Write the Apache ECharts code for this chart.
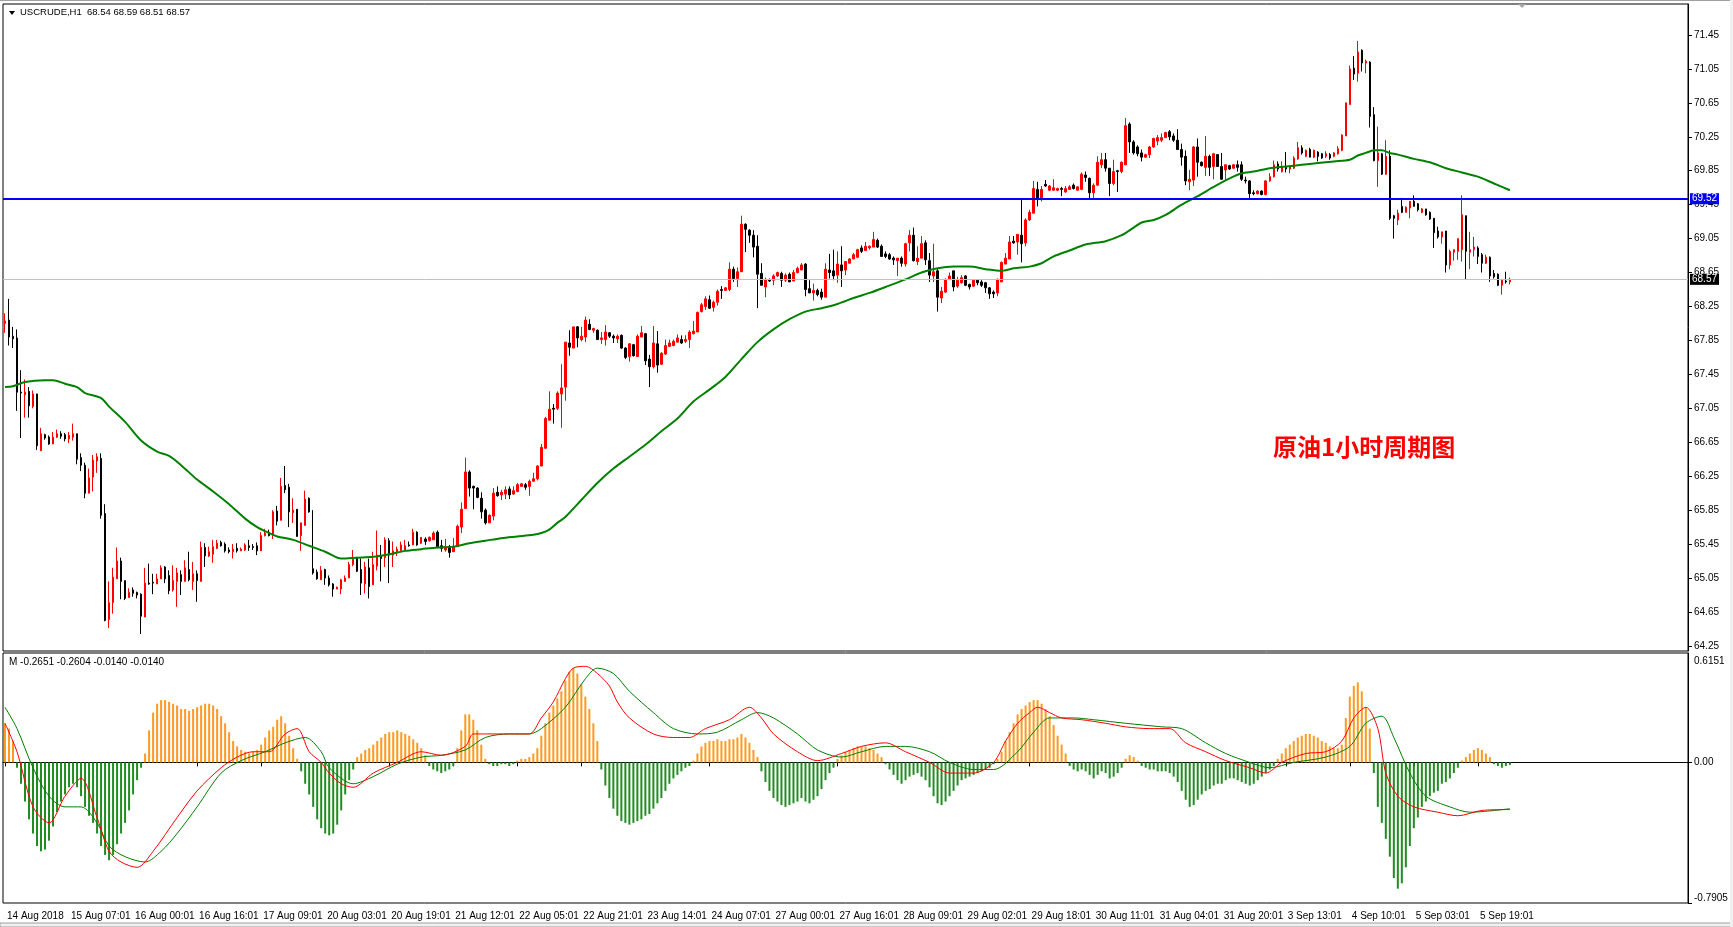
<!DOCTYPE html>
<html><head><meta charset="utf-8">
<script src="https://cdn.jsdelivr.net/npm/echarts@6/dist/echarts.min.js"></script>
<style>html,body{margin:0;padding:0;background:#fff}#c{width:1733px;height:927px}</style>
</head><body><div id="c"></div>
<script>
// ---- time axis labels (one every 16 hourly bars) ----
const timeLabels = ['14 Aug 2018','15 Aug 07:01','16 Aug 00:01','16 Aug 16:01','17 Aug 09:01','20 Aug 03:01','20 Aug 19:01','21 Aug 12:01','22 Aug 05:01','22 Aug 21:01','23 Aug 14:01','24 Aug 07:01','27 Aug 00:01','27 Aug 16:01','28 Aug 09:01','29 Aug 02:01','29 Aug 18:01','30 Aug 11:01','31 Aug 04:01','31 Aug 20:01','3 Sep 13:01','4 Sep 10:01','5 Sep 03:01','5 Sep 19:01'];
const barsPerLabel = 16;
const totalSlots = 421;
const priceTicks = [64.25,64.65,65.05,65.45,65.85,66.25,66.65,67.05,67.45,67.85,68.25,68.65,69.05,69.45,69.85,70.25,70.65,71.05,71.45];
const priceMin = 64.19, priceMax = 71.815;
const macdTicks = [0.6151, 0, -0.7905];
const levelLine = 69.52;
const lastPrice = 68.57;

// ---- OHLC ----
const opens = [
68.05,68.09,67.90,67.88,67.24,67.21,67.25,67.07,67.22,66.55,
66.74,66.71,66.63,66.71,66.75,66.74,66.69,66.71,66.75,66.47,
66.38,66.05,66.24,66.43,66.46,65.81,64.56,64.76,65.04,65.25,
65.02,64.82,64.91,64.88,64.86,64.59,64.99,65.00,64.98,65.04,
65.18,65.08,64.91,65.01,65.09,65.01,65.15,65.01,65.10,65.01,
65.41,65.31,65.33,65.40,65.47,65.45,65.38,65.36,65.40,65.37,
65.38,65.43,65.42,65.43,65.37,65.55,65.59,65.55,65.84,65.73,
66.14,66.12,65.82,65.86,65.55,65.67,65.99,65.16,65.12,65.03,
65.15,65.05,64.98,64.92,64.92,65.01,65.05,65.21,65.28,65.15,
64.98,65.17,64.97,65.19,
65.31,65.29,65.49,65.32,65.35,65.37,
65.38,65.44,65.44,65.59,65.46,65.51,65.49,65.50,65.59,65.43,
65.38,65.42,65.36,65.42,65.65,65.87,66.30,66.13,66.11,65.99,
65.85,65.70,65.78,66.06,66.03,66.04,66.10,66.04,66.07,66.13,
66.15,66.13,66.19,66.22,66.37,66.58,66.91,67.05,67.05,67.22,
67.30,67.82,67.76,68.01,67.86,67.89,68.04,67.97,67.97,67.86,
67.86,67.94,67.90,67.87,67.91,67.76,67.66,67.80,67.66,67.89,
67.93,67.63,67.54,67.81,67.57,67.69,67.78,67.79,67.83,67.86,
67.84,67.86,67.93,67.95,68.19,68.25,68.33,68.24,68.30,68.45,
68.44,68.45,68.69,68.58,68.66,69.22,69.15,69.09,
68.96,68.64,
68.48,68.56,68.56,68.61,68.64,68.56,68.63,68.55,68.65,68.68,
68.75,68.46,68.41,68.44,68.42,68.36,68.68,68.67,68.62,68.74,
68.68,68.76,68.81,68.83,68.94,68.91,68.94,68.95,69.03,68.96,
68.87,68.86,68.82,68.79,68.82,68.75,69.00,69.09,68.78,68.82,
69.00,68.79,68.61,68.67,68.35,68.42,68.57,68.67,68.49,68.53,
68.61,68.51,68.49,68.56,68.54,68.53,68.47,68.42,68.41,68.54,
68.75,68.81,69.02,69.01,69.09,69.00,69.27,69.35,69.63,69.51,
69.69,69.62,69.62,69.62,69.64,69.60,69.63,69.68,69.62,69.63,
69.80,69.76,69.59,69.68,69.92,69.98,69.88,69.70,69.85,69.84,
69.92,70.40,
70.19,70.13,70.06,70.01,70.04,70.13,70.20,70.21,
70.24,70.31,70.26,70.21,70.10,70.02,69.72,69.74,70.13,69.95,
69.89,70.02,69.90,70.04,69.90,69.86,69.91,69.88,69.92,69.92,
69.74,69.73,69.59,69.58,69.61,69.57,69.73,69.78,69.93,69.84,
69.89,69.87,69.88,69.99,70.12,70.02,70.10,70.01,70.07,70.05,
70.02,70.04,70.02,70.05,70.09,70.26,70.63,71.06,71.00,71.27,
71.12,71.13,70.51,69.97,70.05,69.81,70.02,69.32,69.27,69.43,
69.36,69.41,69.49,69.46,69.36,69.40,69.36,69.29,69.14,69.07,
69.14,68.74,68.89,68.90,68.92,69.32,68.89,68.92,68.94,68.86,
68.76,68.83,68.64,68.63,68.50,68.55,68.54];
const highs = [
68.17,68.34,68.01,67.98,67.50,67.39,67.30,67.26,67.22,66.82,
66.75,66.73,66.77,66.80,66.78,66.76,66.77,66.87,66.75,66.52,
66.41,66.34,66.50,66.52,66.52,65.92,65.01,65.17,65.41,65.29,
65.02,64.93,64.94,64.89,64.87,65.17,65.22,65.10,65.10,65.20,
65.19,65.14,65.20,65.17,65.14,65.26,65.36,65.24,65.14,65.48,
65.46,65.42,65.50,65.50,65.49,65.47,65.41,65.45,65.46,65.41,
65.46,65.50,65.45,65.47,65.59,65.63,65.62,65.85,65.90,66.23,
66.37,66.16,65.99,65.86,65.70,66.08,66.00,65.85,65.15,65.19,
65.16,65.08,64.99,64.95,65.04,65.08,65.24,65.38,65.30,65.28,
65.24,65.28,65.36,65.61,
65.44,65.53,65.52,65.48,65.42,65.48,
65.50,65.48,65.63,65.60,65.53,65.53,65.54,65.60,65.61,65.50,
65.51,65.44,65.52,65.68,65.94,66.47,66.32,66.14,66.12,66.06,
65.87,65.80,66.11,66.13,66.09,66.13,66.13,66.13,66.17,66.17,
66.17,66.21,66.29,66.38,66.63,66.95,67.25,67.10,67.25,67.57,
67.83,67.97,68.01,68.02,68.01,68.13,68.10,68.00,67.98,67.95,
68.03,67.95,67.92,67.92,67.92,67.77,67.82,67.81,67.92,68.02,
67.93,67.68,68.02,67.96,67.71,67.86,67.86,67.86,67.92,67.91,
67.91,67.97,68.08,68.19,68.29,68.37,68.38,68.32,68.45,68.49,
68.48,68.77,68.72,68.71,69.32,69.23,69.16,69.15,
69.09,68.76,
68.59,68.58,68.63,68.66,68.66,68.64,68.65,68.68,68.72,68.76,
68.76,68.56,68.52,68.46,68.46,68.76,68.87,68.92,68.90,68.96,
68.78,68.82,68.88,68.93,68.97,69.01,68.97,69.13,69.05,68.98,
68.90,68.88,68.84,68.82,68.84,69.00,69.15,69.18,68.96,69.08,
69.03,68.88,68.99,68.70,68.48,68.58,68.65,68.67,68.60,68.62,
68.62,68.52,68.57,68.57,68.56,68.54,68.48,68.44,68.58,68.78,
68.88,69.08,69.08,69.10,69.51,69.29,69.39,69.73,69.72,69.67,
69.74,69.68,69.75,69.65,69.66,69.67,69.68,69.70,69.67,69.83,
69.84,69.77,69.70,70.02,70.06,70.06,69.88,69.98,69.86,69.96,
70.47,70.42,
70.21,70.15,70.10,70.05,70.14,70.24,70.27,70.29,
70.31,70.33,70.29,70.34,70.17,70.09,69.86,70.14,70.23,69.96,
70.26,70.04,70.06,70.04,70.06,69.92,69.92,69.93,69.97,69.96,
69.78,69.74,69.62,69.62,69.62,69.74,69.82,69.97,69.96,69.96,
70.07,69.91,70.02,70.19,70.15,70.10,70.12,70.10,70.08,70.06,
70.08,70.06,70.07,70.14,70.28,70.65,71.09,71.20,71.38,71.28,
71.16,71.14,70.60,70.37,70.06,70.21,70.09,69.33,69.39,69.53,
69.43,69.49,69.56,69.47,69.41,69.40,69.37,69.29,69.19,69.13,
69.14,68.92,68.92,69.05,69.56,69.32,69.13,69.07,68.96,68.88,
68.86,68.84,68.68,68.64,68.57,68.66,68.59];
const lows = [
67.94,67.79,67.76,67.02,66.70,66.94,66.94,67.05,66.56,66.55,
66.68,66.62,66.63,66.70,66.69,66.66,66.64,66.67,66.39,66.31,
65.99,66.05,66.07,66.29,65.75,64.54,64.46,64.63,65.04,64.80,
64.79,64.82,64.83,64.81,64.39,64.59,64.97,64.86,64.98,65.04,
64.99,64.86,64.89,64.71,64.85,65.01,65.01,64.91,64.77,65.01,
65.18,65.30,65.23,65.39,65.42,65.35,65.34,65.28,65.35,65.37,
65.37,65.37,65.38,65.32,65.37,65.54,65.54,65.51,65.67,65.73,
66.05,65.65,65.70,65.54,65.37,65.67,65.82,65.09,65.03,65.03,
64.97,64.95,64.83,64.92,64.86,65.01,65.05,65.19,65.12,64.85,
64.87,64.81,64.97,65.14,
65.01,65.18,64.99,65.18,65.31,65.37,
65.38,65.42,65.44,65.43,65.45,65.44,65.48,65.50,65.40,65.36,
65.36,65.29,65.36,65.42,65.58,65.87,66.01,65.86,65.99,65.75,
65.68,65.70,65.73,66.01,65.97,65.98,65.98,66.03,66.06,66.13,
66.09,66.02,66.19,66.20,66.37,66.57,66.91,66.87,67.03,66.82,
67.14,67.67,67.76,67.77,67.84,67.83,67.97,67.94,67.86,67.81,
67.79,67.88,67.82,67.82,67.75,67.63,67.60,67.66,67.66,67.89,
67.56,67.30,67.52,67.47,67.56,67.68,67.78,67.78,67.83,67.81,
67.82,67.76,67.92,67.95,68.18,68.21,68.22,68.19,68.26,68.34,
68.44,68.43,68.54,68.48,68.66,68.89,69.00,68.83,
68.23,68.50,
68.36,68.54,68.50,68.60,68.48,68.54,68.54,68.55,68.64,68.68,
68.37,68.41,68.32,68.37,68.33,68.36,68.58,68.56,68.53,68.48,
68.62,68.76,68.81,68.82,68.88,68.91,68.92,68.95,68.94,68.84,
68.82,68.80,68.74,68.61,68.72,68.72,68.90,68.78,68.74,68.82,
68.74,68.54,68.54,68.19,68.29,68.41,68.56,68.43,68.47,68.52,
68.49,68.45,68.48,68.50,68.48,68.41,68.34,68.35,68.37,68.54,
68.75,68.81,68.99,68.86,68.77,68.96,69.26,69.35,69.43,69.49,
69.66,69.61,69.62,69.61,69.55,69.59,69.63,69.63,69.62,69.62,
69.72,69.52,69.53,69.67,69.88,69.84,69.55,69.68,69.60,69.82,
69.92,70.06,
70.04,70.02,69.96,70.00,70.00,70.12,70.15,70.19,
70.24,70.21,70.19,70.10,69.91,69.68,69.62,69.67,69.78,69.90,
69.79,69.79,69.75,69.90,69.74,69.74,69.86,69.87,69.84,69.73,
69.70,69.53,69.56,69.57,69.56,69.56,69.72,69.77,69.84,69.83,
69.83,69.82,69.87,69.98,70.04,70.01,70.01,70.00,69.96,69.99,
70.00,69.98,70.01,70.04,70.08,70.26,70.63,70.92,70.90,71.02,
71.00,70.36,69.96,69.66,69.80,69.80,69.27,69.05,69.21,69.35,
69.36,69.29,69.43,69.37,69.35,69.32,69.27,68.94,69.05,68.99,
68.65,68.69,68.79,68.80,68.78,68.57,68.69,68.84,68.75,68.65,
68.75,68.54,68.58,68.49,68.39,68.52,68.51];
const closes = [
68.08,67.89,67.87,67.24,67.23,67.24,67.08,67.22,66.61,66.75,
66.70,66.63,66.71,66.75,66.72,66.69,66.73,66.75,66.45,66.38,
66.05,66.23,66.44,66.48,65.79,64.55,64.76,65.06,65.25,65.01,
64.81,64.88,64.87,64.85,64.60,64.99,64.98,64.99,65.04,65.17,
65.04,64.90,65.02,65.11,65.01,65.17,65.03,65.10,65.02,65.41,
65.31,65.36,65.42,65.46,65.43,65.37,65.36,65.39,65.37,65.39,
65.44,65.41,65.41,65.37,65.55,65.58,65.55,65.83,65.72,66.13,
66.09,65.83,65.85,65.54,65.70,65.98,65.83,65.11,65.04,65.14,
65.05,64.97,64.92,64.94,65.03,65.05,65.21,65.27,65.13,64.99,
65.18,64.95,65.21,65.32,
65.28,65.50,65.32,65.37,65.39,65.44,
65.43,65.43,65.59,65.44,65.53,65.48,65.53,65.58,65.42,65.40,
65.42,65.35,65.42,65.66,65.86,66.30,66.11,66.11,66.00,65.83,
65.70,65.79,66.05,66.02,66.06,66.09,66.03,66.08,66.15,66.16,
66.12,66.19,66.22,66.37,66.59,66.93,67.04,67.04,67.23,67.29,
67.83,67.77,68.01,67.88,67.90,68.09,67.98,67.99,67.86,67.88,
67.95,67.90,67.88,67.90,67.76,67.65,67.81,67.67,67.90,67.94,
67.61,67.54,67.82,67.56,67.70,67.79,67.82,67.84,67.88,67.82,
67.86,67.95,67.96,68.18,68.27,68.34,68.23,68.30,68.43,68.44,
68.47,68.69,68.58,68.66,69.22,69.16,69.09,68.95,
68.63,68.50,
68.57,68.55,68.61,68.65,68.56,68.62,68.54,68.65,68.70,68.74,
68.45,68.41,68.44,68.39,68.36,68.69,68.65,68.61,68.75,68.67,
68.78,68.81,68.86,68.92,68.90,68.96,68.96,69.04,68.95,68.84,
68.84,68.81,68.80,68.82,68.76,68.99,69.09,68.79,68.82,68.99,
68.80,68.62,68.66,68.36,68.43,68.57,68.61,68.48,68.56,68.59,
68.50,68.48,68.56,68.53,68.50,68.47,68.40,68.40,68.57,68.77,
68.82,69.01,69.00,69.10,68.99,69.27,69.36,69.64,69.51,69.63,
69.67,69.67,69.65,69.64,69.63,69.64,69.66,69.64,69.66,69.81,
69.77,69.59,69.68,69.95,69.98,69.88,69.70,69.84,69.84,69.95,
70.38,70.19,
70.06,70.05,70.01,70.04,70.13,70.23,70.24,70.24,
70.30,70.25,70.21,70.10,70.01,69.73,69.75,70.13,69.95,69.91,
70.02,69.89,70.05,69.90,69.75,69.92,69.87,69.92,69.89,69.75,
69.73,69.58,69.58,69.61,69.57,69.73,69.78,69.92,69.87,69.89,
69.87,69.90,70.00,70.12,70.06,70.09,70.01,70.09,70.02,70.00,
70.05,70.00,70.06,70.11,70.27,70.65,71.05,70.99,71.25,71.12,
71.14,70.49,69.97,70.06,69.81,70.02,69.29,69.29,69.35,69.36,
69.42,69.49,69.43,69.39,69.40,69.33,69.28,69.12,69.07,69.13,
68.74,68.90,68.92,69.05,69.33,68.90,68.92,68.95,68.84,68.76,
68.83,68.61,68.60,68.50,68.57,68.54,68.57];

// ---- moving average (bar index, value) ----
const maPoints = [[0,67.30],[2,67.31],[5,67.36],[10,67.38],[12,67.38],[15,67.34],[18,67.30],[20,67.23],[24,67.17],[26,67.07],[30,66.89],[34,66.67],[38,66.54],[41,66.49],[44,66.38],[48,66.21],[52,66.07],[56,65.92],[60,65.75],[63,65.65],[66,65.58],[68,65.54],[72,65.50],[76,65.43],[80,65.36],[84,65.28],[88,65.29],[92,65.30],[96,65.33],[100,65.37],[104,65.39],[108,65.41],[112,65.42],[116,65.46],[120,65.49],[124,65.52],[128,65.54],[132,65.56],[134,65.58],[136,65.62],[138,65.70],[140,65.77],[144,65.97],[148,66.17],[152,66.34],[156,66.48],[160,66.62],[164,66.78],[168,66.93],[172,67.13],[176,67.27],[180,67.42],[184,67.63],[188,67.83],[192,67.98],[196,68.10],[200,68.19],[204,68.23],[208,68.28],[212,68.35],[216,68.41],[220,68.48],[225,68.57],[229,68.65],[233,68.70],[237,68.72],[241,68.72],[245,68.69],[249,68.67],[252,68.70],[256,68.72],[259,68.76],[262,68.84],[266,68.91],[270,68.98],[275,69.02],[279,69.09],[282,69.18],[284,69.24],[287,69.27],[290,69.33],[294,69.45],[298,69.55],[302,69.66],[306,69.76],[309,69.82],[312,69.84],[316,69.88],[320,69.90],[324,69.92],[328,69.94],[332,69.96],[336,69.98],[338,70.03],[340,70.06],[342,70.09],[344,70.09],[346,70.06],[348,70.04],[352,69.99],[356,69.95],[360,69.88],[364,69.83],[368,69.78],[372,69.70],[376,69.62]];

// ---- MACD panel ----
const histogram = [
0.22,0.19,0.12,
-0.03,-0.12,-0.22,-0.32,-0.40,-0.47,-0.50,-0.49,-0.44,-0.36,-0.28,-0.22,-0.18,-0.14,-0.12,-0.14,-0.19,-0.25,-0.30,-0.34,-0.40,-0.47,-0.52,-0.55,-0.52,-0.46,-0.40,-0.34,-0.27,-0.18,-0.10,-0.03,
0.05,0.18,0.28,0.33,0.35,0.35,0.34,0.33,0.32,0.30,0.30,0.29,0.30,0.31,0.32,0.33,0.33,0.32,0.30,0.26,0.22,0.17,0.12,0.09,0.07,0.06,0.05,0.06,0.07,0.10,0.14,0.18,0.20,0.24,0.26,0.22,0.15,0.08,0.02,
-0.05,-0.12,-0.18,-0.25,-0.32,-0.37,-0.40,-0.41,-0.40,-0.35,-0.27,-0.18,-0.10,-0.04,
0.03,0.05,0.07,0.08,0.10,
0.12,0.14,0.16,0.17,0.17,0.18,0.17,0.16,0.15,0.13,0.11,0.08,0.04,
-0.02,-0.04,-0.05,-0.06,-0.05,-0.04,-0.02,
0.08,0.18,0.27,0.27,0.24,0.18,0.10,
0.02,-0.01,-0.02,-0.02,-0.01,-0.01,-0.02,-0.01,0.01,0.02,0.02,0.03,0.05,
0.08,0.15,0.22,0.28,0.32,0.36,0.40,0.46,0.51,0.53,0.50,0.44,0.37,0.30,0.22,0.12,
-0.04,-0.13,-0.20,-0.26,-0.30,-0.33,-0.34,-0.35,-0.34,-0.33,-0.32,-0.30,-0.29,-0.26,-0.23,-0.20,-0.16,-0.12,-0.09,-0.07,-0.05,-0.03,-0.02,
0.01,
0.05,0.09,0.11,0.12,0.12,0.13,0.12,0.12,0.13,0.13,0.14,0.16,0.14,0.11,0.07,0.03,
-0.05,-0.11,-0.16,-0.20,-0.22,-0.24,-0.25,-0.24,-0.23,-0.22,-0.20,-0.22,-0.23,-0.21,-0.19,-0.15,-0.10,-0.06,-0.03,
0.02,0.04,0.06,0.07,0.08,0.09,0.09,0.09,0.08,0.07,0.05,0.03,
-0.01,
-0.04,-0.07,-0.10,-0.12,-0.10,-0.08,-0.07,-0.06,-0.08,-0.10,-0.14,-0.19,-0.23,-0.24,-0.22,-0.19,-0.16,-0.13,-0.10,-0.09,-0.08,-0.07,-0.06,-0.05,-0.04,-0.03,-0.01,
0.02,
0.06,0.12,0.17,0.22,0.27,0.30,0.32,0.34,0.35,0.35,0.33,0.30,0.26,0.21,0.15,0.10,0.05,
-0.02,-0.04,-0.05,-0.04,-0.05,-0.07,-0.09,-0.07,-0.05,-0.06,-0.09,-0.08,-0.06,-0.03,
0.02,0.04,0.03,0.01,
-0.02,-0.03,-0.04,-0.04,-0.05,-0.05,-0.05,-0.06,-0.08,-0.11,-0.16,-0.21,-0.25,-0.24,-0.21,-0.18,-0.16,-0.15,-0.13,-0.12,-0.12,-0.10,-0.09,-0.09,-0.10,-0.11,-0.12,-0.13,-0.12,-0.10,-0.08,-0.06,-0.04,-0.02,
0.02,0.05,0.08,0.10,0.12,0.14,0.15,0.16,0.16,0.15,0.14,0.12,0.11,0.09,0.08,0.08,0.10,
0.25,0.37,0.43,0.45,0.40,0.31,0.19,
-0.06,-0.25,-0.34,-0.43,-0.53,-0.65,-0.71,-0.68,-0.59,-0.47,-0.37,-0.31,-0.25,-0.22,-0.19,-0.17,-0.16,-0.12,-0.11,-0.09,-0.06,-0.03,
0.01,0.03,0.05,0.07,0.08,0.07,0.05,0.03,
-0.01,-0.02,-0.03,-0.02,-0.014];
const macdLine = [[0,0.22],[3,0.06],[7,-0.25],[11,-0.34],[15,-0.19],[19,-0.09],[23,-0.31],[26,-0.50],[29,-0.56],[33,-0.59],[37,-0.50],[43,-0.31],[48,-0.16],[54,-0.03],[58,0.03],[62,0.06],[66,0.06],[70,0.16],[73,0.19],[76,0.06],[79,0.00],[81,-0.06],[84,-0.12],[87,-0.14],[92,-0.06],[98,0.00],[104,0.06],[109,0.04],[115,0.09],[117,0.16],[120,0.16],[126,0.16],[131,0.16],[134,0.25],[137,0.34],[140,0.47],[142,0.53],[145,0.54],[148,0.50],[151,0.43],[153,0.34],[156,0.25],[162,0.16],[167,0.14],[171,0.14],[175,0.19],[181,0.24],[186,0.31],[189,0.25],[192,0.16],[198,0.06],[203,0.01],[209,0.05],[214,0.09],[220,0.11],[225,0.06],[231,0.00],[236,-0.06],[242,-0.06],[247,0.00],[250,0.12],[253,0.22],[256,0.28],[258,0.31],[261,0.28],[264,0.25],[269,0.24],[275,0.22],[280,0.20],[286,0.19],[291,0.19],[295,0.11],[300,0.06],[305,0.01],[311,-0.03],[315,-0.06],[319,0.00],[325,0.05],[330,0.06],[334,0.12],[337,0.25],[340,0.31],[343,0.19],[345,-0.06],[348,-0.19],[352,-0.25],[358,-0.28],[363,-0.30],[369,-0.27],[376,-0.2651]];
const signalLine = [[0,0.31],[3,0.19],[7,-0.03],[11,-0.19],[15,-0.25],[19,-0.25],[23,-0.34],[26,-0.47],[30,-0.53],[35,-0.56],[39,-0.50],[43,-0.40],[48,-0.25],[54,-0.06],[59,0.01],[65,0.06],[70,0.11],[75,0.14],[79,0.06],[81,-0.03],[87,-0.12],[92,-0.08],[98,-0.01],[104,0.03],[109,0.04],[115,0.07],[120,0.14],[126,0.16],[131,0.16],[134,0.19],[140,0.31],[145,0.47],[148,0.53],[152,0.50],[156,0.40],[162,0.28],[167,0.19],[173,0.16],[178,0.17],[184,0.24],[188,0.28],[192,0.25],[198,0.16],[203,0.07],[209,0.03],[214,0.06],[220,0.09],[225,0.09],[231,0.06],[236,0.00],[242,-0.04],[247,-0.04],[253,0.06],[257,0.17],[261,0.25],[267,0.25],[272,0.24],[280,0.22],[289,0.20],[294,0.19],[300,0.11],[305,0.05],[311,0.00],[316,-0.03],[322,0.00],[330,0.03],[336,0.09],[340,0.22],[344,0.26],[347,0.14],[351,-0.06],[355,-0.19],[361,-0.25],[366,-0.28],[376,-0.2604]];

// ---- build chart ----
const N = opens.length;
const candleData = opens.map((o, i) => [o, closes[i], lows[i], highs[i]]);
const categories = Array.from({length: totalSlots}, (_, i) => String(i));
const isLabelSlot = (idx) => idx % barsPerLabel === 0 && (idx / barsPerLabel) < timeLabels.length;
const FONT = 'Liberation Sans';

const chart = echarts.init(document.getElementById('c'), null, {renderer: 'canvas'});
const option = {
  animation: false,
  backgroundColor: '#ffffff',
  textStyle: {fontFamily: FONT},
  title: [
    {text: 'USCRUDE,H1  68.54 68.59 68.51 68.57', left: 20, top: 7, padding: 0,
     textStyle: {fontSize: 9.5, fontWeight: 'normal', color: '#000', fontFamily: FONT}},
    {text: 'M -0.2651 -0.2604 -0.0140 -0.0140', left: 9, top: 657, padding: 0,
     textStyle: {fontSize: 10, fontWeight: 'normal', color: '#000', fontFamily: FONT}},
    {text: '原油1小时周期图', left: 1273, top: 435, padding: 0,
     textStyle: {fontSize: 24, fontWeight: 'bold', color: '#ff0000', fontFamily: 'Noto Sans CJK SC'}}
  ],
  graphic: [
    {type: 'polygon', shape: {points: [[9, 11], [15, 11], [12, 15]]}, style: {fill: '#000'}},
    {type: 'polygon', shape: {points: [[1518, 4], [1526, 4], [1522, 8]]}, style: {fill: '#a8a8a8'}},
    {type: 'rect', shape: {x: 0, y: 0, width: 1733, height: 1}, style: {fill: '#a0a0a0'}},
    {type: 'rect', shape: {x: 0, y: 923, width: 1733, height: 4}, style: {fill: '#f0f0f0', stroke: '#a0a0a0', lineWidth: 1}},
    {type: 'rect', shape: {x: 1730, y: 0, width: 3, height: 927}, style: {fill: '#f0f0f0'}}
  ],
  grid: [
    {left: 3, right: 45, top: 4, height: 647, show: true, borderColor: '#000', borderWidth: 1, backgroundColor: '#fff'},
    {left: 3, right: 45, top: 653, height: 250, show: true, borderColor: '#000', borderWidth: 1, backgroundColor: '#fff'}
  ],
  xAxis: [
    {type: 'category', gridIndex: 0, data: categories, boundaryGap: true, show: false},
    {type: 'category', gridIndex: 1, data: categories, boundaryGap: true,
     axisLine: {show: true, lineStyle: {color: '#000', width: 1}},
     axisTick: {show: true, alignWithLabel: true, length: 4, interval: (idx) => isLabelSlot(idx), lineStyle: {color: '#000'}},
     axisLabel: {show: true, interval: (idx) => isLabelSlot(idx), align: 'left', margin: 8, padding: [0, 0, 0, 2],
                 fontSize: 10, color: '#000', fontFamily: FONT,
                 formatter: (val, idx) => timeLabels[Math.round(Number(val) / barsPerLabel)] || ''},
     splitLine: {show: false}}
  ],
  yAxis: [
    {type: 'value', gridIndex: 0, position: 'right', min: priceMin, max: priceMax, scale: true,
     axisLine: {show: true, lineStyle: {color: '#000', width: 1}},
     axisTick: {show: true, length: 4, customValues: priceTicks, lineStyle: {color: '#000'}},
     axisLabel: {show: true, customValues: priceTicks, margin: 6, fontSize: 10, color: '#000', fontFamily: FONT,
                 formatter: (v) => Number(v).toFixed(2)},
     splitLine: {show: false}},
    {type: 'value', gridIndex: 1, position: 'right', min: macdTicks[2], max: macdTicks[0],
     axisLine: {show: true, lineStyle: {color: '#000', width: 1}},
     axisTick: {show: true, length: 4, customValues: [0, macdTicks[2]], lineStyle: {color: '#000'}},
     axisLabel: {show: true, customValues: macdTicks, margin: 6, fontSize: 10, color: '#000', fontFamily: FONT,
                 formatter: (v) => {
                   v = Number(v);
                   if (v > 0.3) return '{t|' + v.toFixed(4) + '}';
                   if (v < -0.3) return '{b|' + v.toFixed(4) + '}';
                   return v.toFixed(2);
                 },
                 rich: {t: {padding: [16, 0, 0, 0], fontSize: 10, fontFamily: FONT, color: '#000'},
                        b: {padding: [0, 0, 10, 0], fontSize: 10, fontFamily: FONT, color: '#000'}}},
     splitLine: {show: false}}
  ],
  series: [
    {type: 'candlestick', xAxisIndex: 0, yAxisIndex: 0, data: candleData, barWidth: 2,
     itemStyle: {color: '#ff0000', color0: '#000000', borderColor: '#ff0000', borderColor0: '#000000', borderWidth: 1},
     markLine: {silent: true, symbol: ['none', 'none'], animation: false,
       data: [
         {yAxis: levelLine, lineStyle: {color: '#0000ff', width: 2, type: 'solid'},
          label: {show: true, position: 'end', distance: 2, formatter: levelLine.toFixed(2), color: '#fff',
                  backgroundColor: '#0000ff', padding: [1, 2, 0, 2], fontSize: 10, fontFamily: FONT}},
         {yAxis: lastPrice, lineStyle: {color: '#c0c0c0', width: 1, type: 'solid'},
          label: {show: true, position: 'end', distance: 2, formatter: lastPrice.toFixed(2), color: '#fff',
                  backgroundColor: '#000000', padding: [1, 2, 0, 2], fontSize: 10, fontFamily: FONT}}
       ]}},
    {type: 'line', xAxisIndex: 0, yAxisIndex: 0, data: maPoints, showSymbol: false, smooth: 0.3,
     lineStyle: {color: '#008000', width: 2}, z: 3},
    {type: 'bar', xAxisIndex: 1, yAxisIndex: 1, data: histogram, barWidth: 2,
     itemStyle: {color: (p) => p.value >= 0 ? '#ff9a1e' : '#228b22'}},
    {type: 'line', xAxisIndex: 1, yAxisIndex: 1, data: macdLine, showSymbol: false, smooth: 0.3,
     lineStyle: {color: '#ff0000', width: 1}, z: 4},
    {type: 'line', xAxisIndex: 1, yAxisIndex: 1, data: signalLine, showSymbol: false, smooth: 0.3,
     lineStyle: {color: '#008000', width: 1}, z: 3}
  ]
};
if (highs.length !== N || lows.length !== N || closes.length !== N || histogram.length !== N) {
  option.title.push({text: 'len ' + [N, highs.length, lows.length, closes.length, histogram.length].join(','), left: 600, top: 300});
}
chart.setOption(option);
</script></body></html>
